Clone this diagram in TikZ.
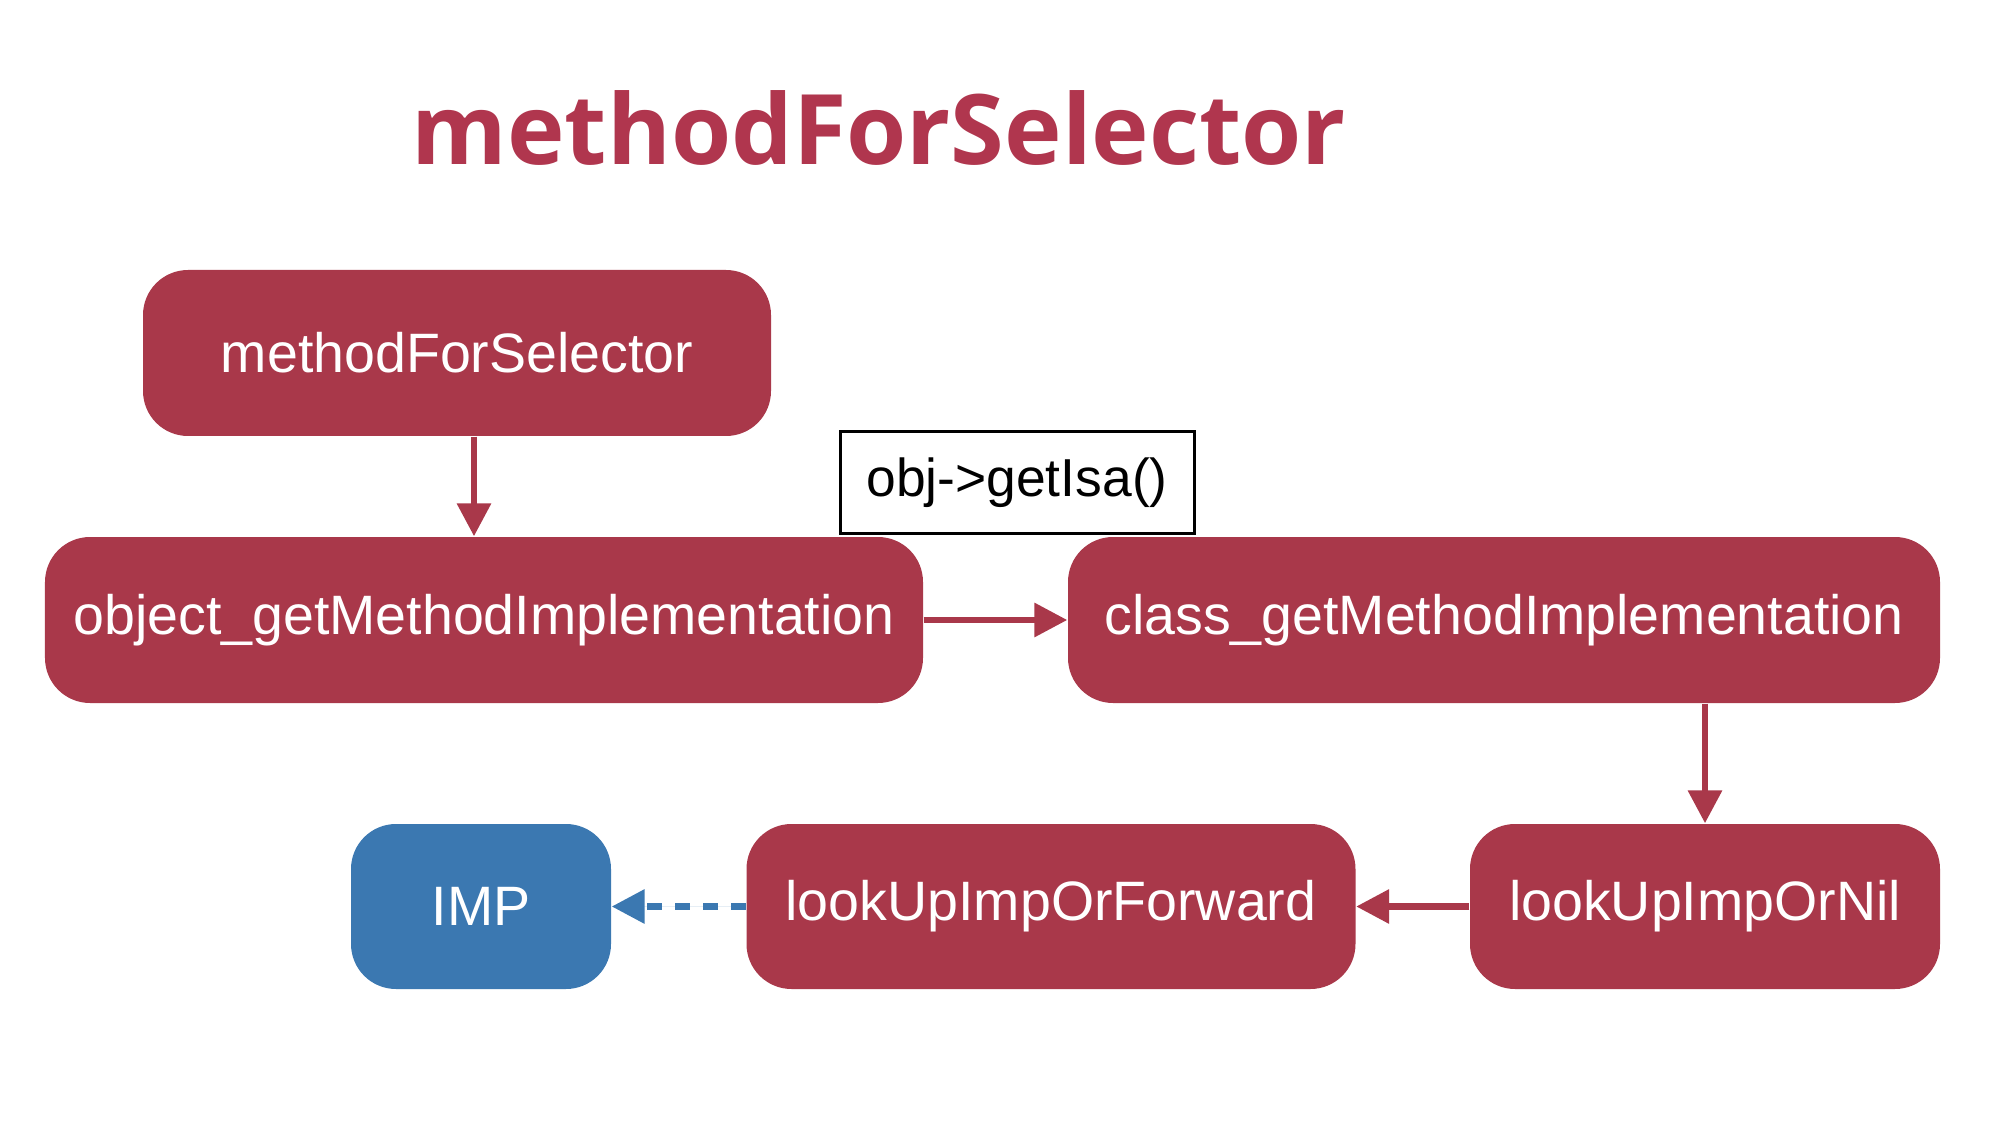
\documentclass[tikz,border=0pt]{standalone}
\usepackage{fontspec}
\setmainfont{Liberation Sans}
\newfontfamily\titlefont{Open Sans}
\usepackage{xcolor}
\usetikzlibrary{arrows.meta,calc}

\definecolor{boxred}{HTML}{A9384A}
\definecolor{titlered}{HTML}{B0364E}
\definecolor{impblue}{HTML}{3B78B1}

\tikzset{
  redbox/.style={fill=boxred, rounded corners=0.45cm, text=white, inner sep=0pt,
    minimum height=1.66cm, font=\fontsize{15.8}{18}\selectfont},
  bluebox/.style={redbox, fill=impblue},
  isabox/.style={draw=black, line width=0.03cm, fill=white, inner sep=0pt,
    minimum width=3.54cm, minimum height=1.01cm, font=\fontsize{15.2}{18}\selectfont},
  link/.style={draw=boxred, line width=0.065cm, -{Triangle[length=0.33cm,width=0.33cm]}},
  dashlink/.style={link, draw=impblue, fill=impblue, dash pattern=on 0.15cm off 0.13cm}
}

\begin{document}
\begin{tikzpicture}
\useasboundingbox (0,0) rectangle (19.94,11.22);

\node [titlered, anchor=base, font=\titlefont\bfseries\fontsize{27.7}{32}\selectfont] (title) at (8.79,9.57) {methodForSelector};

% first row
\node [redbox, minimum width=6.28cm] (mfs) at (4.57,7.69) {methodForSelector};
\node [redbox, minimum width=8.78cm] (ogmi) at (4.84,5.02) {object\_getMethodImplementation};
\node [redbox, minimum width=8.72cm] (cgmi) at (15.04,5.02) {class\_getMethodImplementation};
\node [isabox] (isa) at (10.17,6.395) {obj->getIsa()};

% bottom row
\node [redbox, minimum width=4.70cm, minimum height=1.65cm] (luon) at (17.05,2.155) {lookUpImpOrNil};
\node [redbox, minimum width=6.09cm, minimum height=1.65cm] (lufw) at (10.51,2.155) {lookUpImpOrForward};
\node [bluebox, minimum width=2.60cm, minimum height=1.65cm] (imp) at (4.81,2.155) {IMP};

\draw [link] ([xshift=0.17cm]mfs.south) -- ([xshift=0.17cm]mfs.south |- ogmi.north);
\draw [link] (ogmi.east) -- (cgmi.west);
\draw [link] (cgmi.south -| luon.north) -- (luon.north);
\draw [link] (luon.west) -- (lufw.east);
\draw [dashlink] (lufw.west) -- (imp.east);
\end{tikzpicture}
\end{document}
